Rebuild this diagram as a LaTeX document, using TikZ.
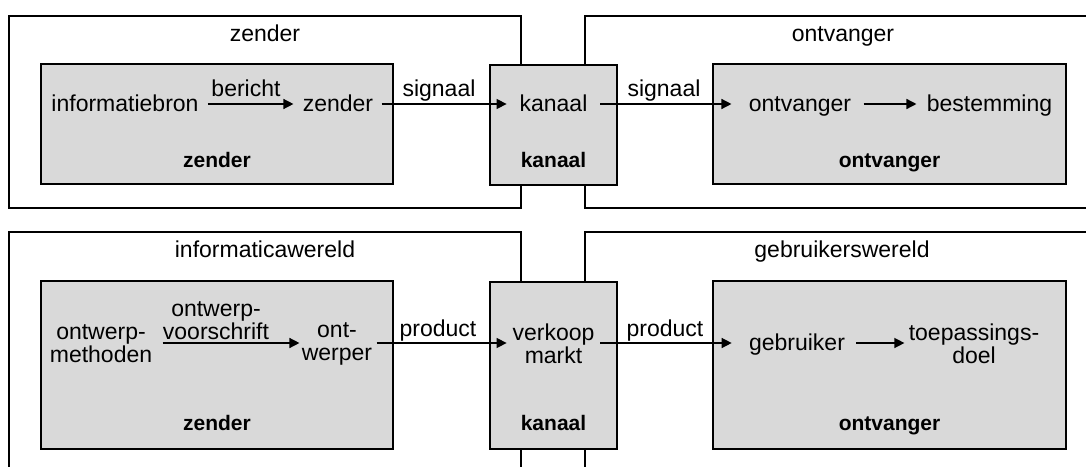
\documentclass[tikz,border=0pt]{standalone}
\usepackage{fontspec}
\setmainfont{Liberation Sans}
\usetikzlibrary{arrows.meta,fit}
\begin{document}
\begin{tikzpicture}[x=0.5pt,y=-0.5pt,
  frame/.style={draw=black,line width=1pt},
  panel/.style={draw=black,line width=1pt,fill=black!15,inner sep=0pt},
  word/.style={inner sep=0pt,anchor=mid,font=\fontsize{11.5}{11.5}\selectfont},
  pair/.style={inner sep=0pt,anchor=center,align=center,font=\fontsize{11.5}{11.5}\selectfont},
  tag/.style={inner sep=0pt,anchor=mid,font=\fontsize{10.5}{12}\selectfont\bfseries},
  flow/.style={line width=0.7pt,-{Triangle[length=5pt,width=5pt]}}]

\useasboundingbox (0,0) rectangle (1086,466);
\clip (0,0) rectangle (1086,466);

% outer worlds
\draw[frame] (9,16) rectangle (521,208);
\draw[frame] (585,16) rectangle (1101,208);
\draw[frame] (9,232) rectangle (521,490);
\draw[frame] (585,232) rectangle (1101,490);

\node[word] (tZ) at (265,36) {zender};
\node[word] (tO) at (843,36) {ontvanger};
\node[word] (tI) at (265,252) {informaticawereld};
\node[word] (tG) at (842,252) {gebruikerswereld};

% grey panels
\node[panel, fit={(41,64) (393,184)}] (zA) {};
\node[panel, fit={(490,65) (617,185)}] (kA) {};
\node[panel, fit={(713,64) (1066,184)}] (oA) {};
\node[panel, fit={(41,281) (393,449)}] (zB) {};
\node[panel, fit={(490,282) (617,449)}] (kB) {};
\node[panel, fit={(713,281) (1066,449)}] (oB) {};

% heights of the two chains of arrows
\coordinate (rowA) at (0,104);
\coordinate (rowB) at (0,343);

% upper chain
\node[word] (info) at (125,106) {informatiebron};
\node[word] (zend) at (338,106) {zender};
\node[word, minimum width=46.5pt] (kan) at (553.5,106) {kanaal};
\node[word] (ontv) at (800,106) {ontvanger};
\node[word] (best) at (989.5,106) {bestemming};

\node[word] (lBer) at (246,91) {bericht};
\node[word] (lSg1) at (439,91) {signaal};
\node[word] (lSg2) at (664,91) {signaal};

\node[tag] (bZA) at (217,162) {zender};
\node[tag] (bKA) at (553.5,162) {kanaal};
\node[tag] (bOA) at (889.5,162) {ontvanger};

\draw[flow, shorten <=4.5pt, shorten >=4.5pt] (info.east |- rowA) -- (zend.west |- rowA);
\draw[flow, shorten <=4pt] (zend.east |- rowA) -- (kan.west |- rowA);
\draw[flow, shorten >=8.5pt] (kan.east |- rowA) -- (ontv.west |- rowA);
\draw[flow, shorten <=6pt, shorten >=5pt] (ontv.east |- rowA) -- (best.west |- rowA);

% lower chain
\node[pair] (meth) at (101,343.5) {ontwerp-\\methoden};
\node[pair] (ontw) at (337,343.5) {ont-\\werper};
\node[pair, minimum width=46.5pt] (verk) at (553.5,343.5) {verkoop\\markt};
\node[word] (gebr) at (797,345) {gebruiker};
\node[pair] (doel) at (974,343.5) {toepassings-\\doel};

\node[pair] (lVs) at (216,321) {ontwerp-\\voorschrift};
\node[word] (lPr1) at (438,331) {product};
\node[word] (lPr2) at (665,331) {product};

\node[tag] (bZB) at (217,425) {zender};
\node[tag] (bKB) at (553.5,425) {kanaal};
\node[tag] (bOB) at (889.5,425) {ontvanger};

\draw[flow, shorten <=5pt, shorten >=1pt] (meth.east |- rowB) -- (ontw.west |- rowB);
\draw[flow, shorten <=2pt] (ontw.east |- rowB) -- (verk.west |- rowB);
\draw[flow, shorten >=8.5pt] (verk.east |- rowB) -- (gebr.west |- rowB);
\draw[flow, shorten <=5.5pt, shorten >=2pt] (gebr.east |- rowB) -- (doel.west |- rowB);
\end{tikzpicture}
\end{document}
